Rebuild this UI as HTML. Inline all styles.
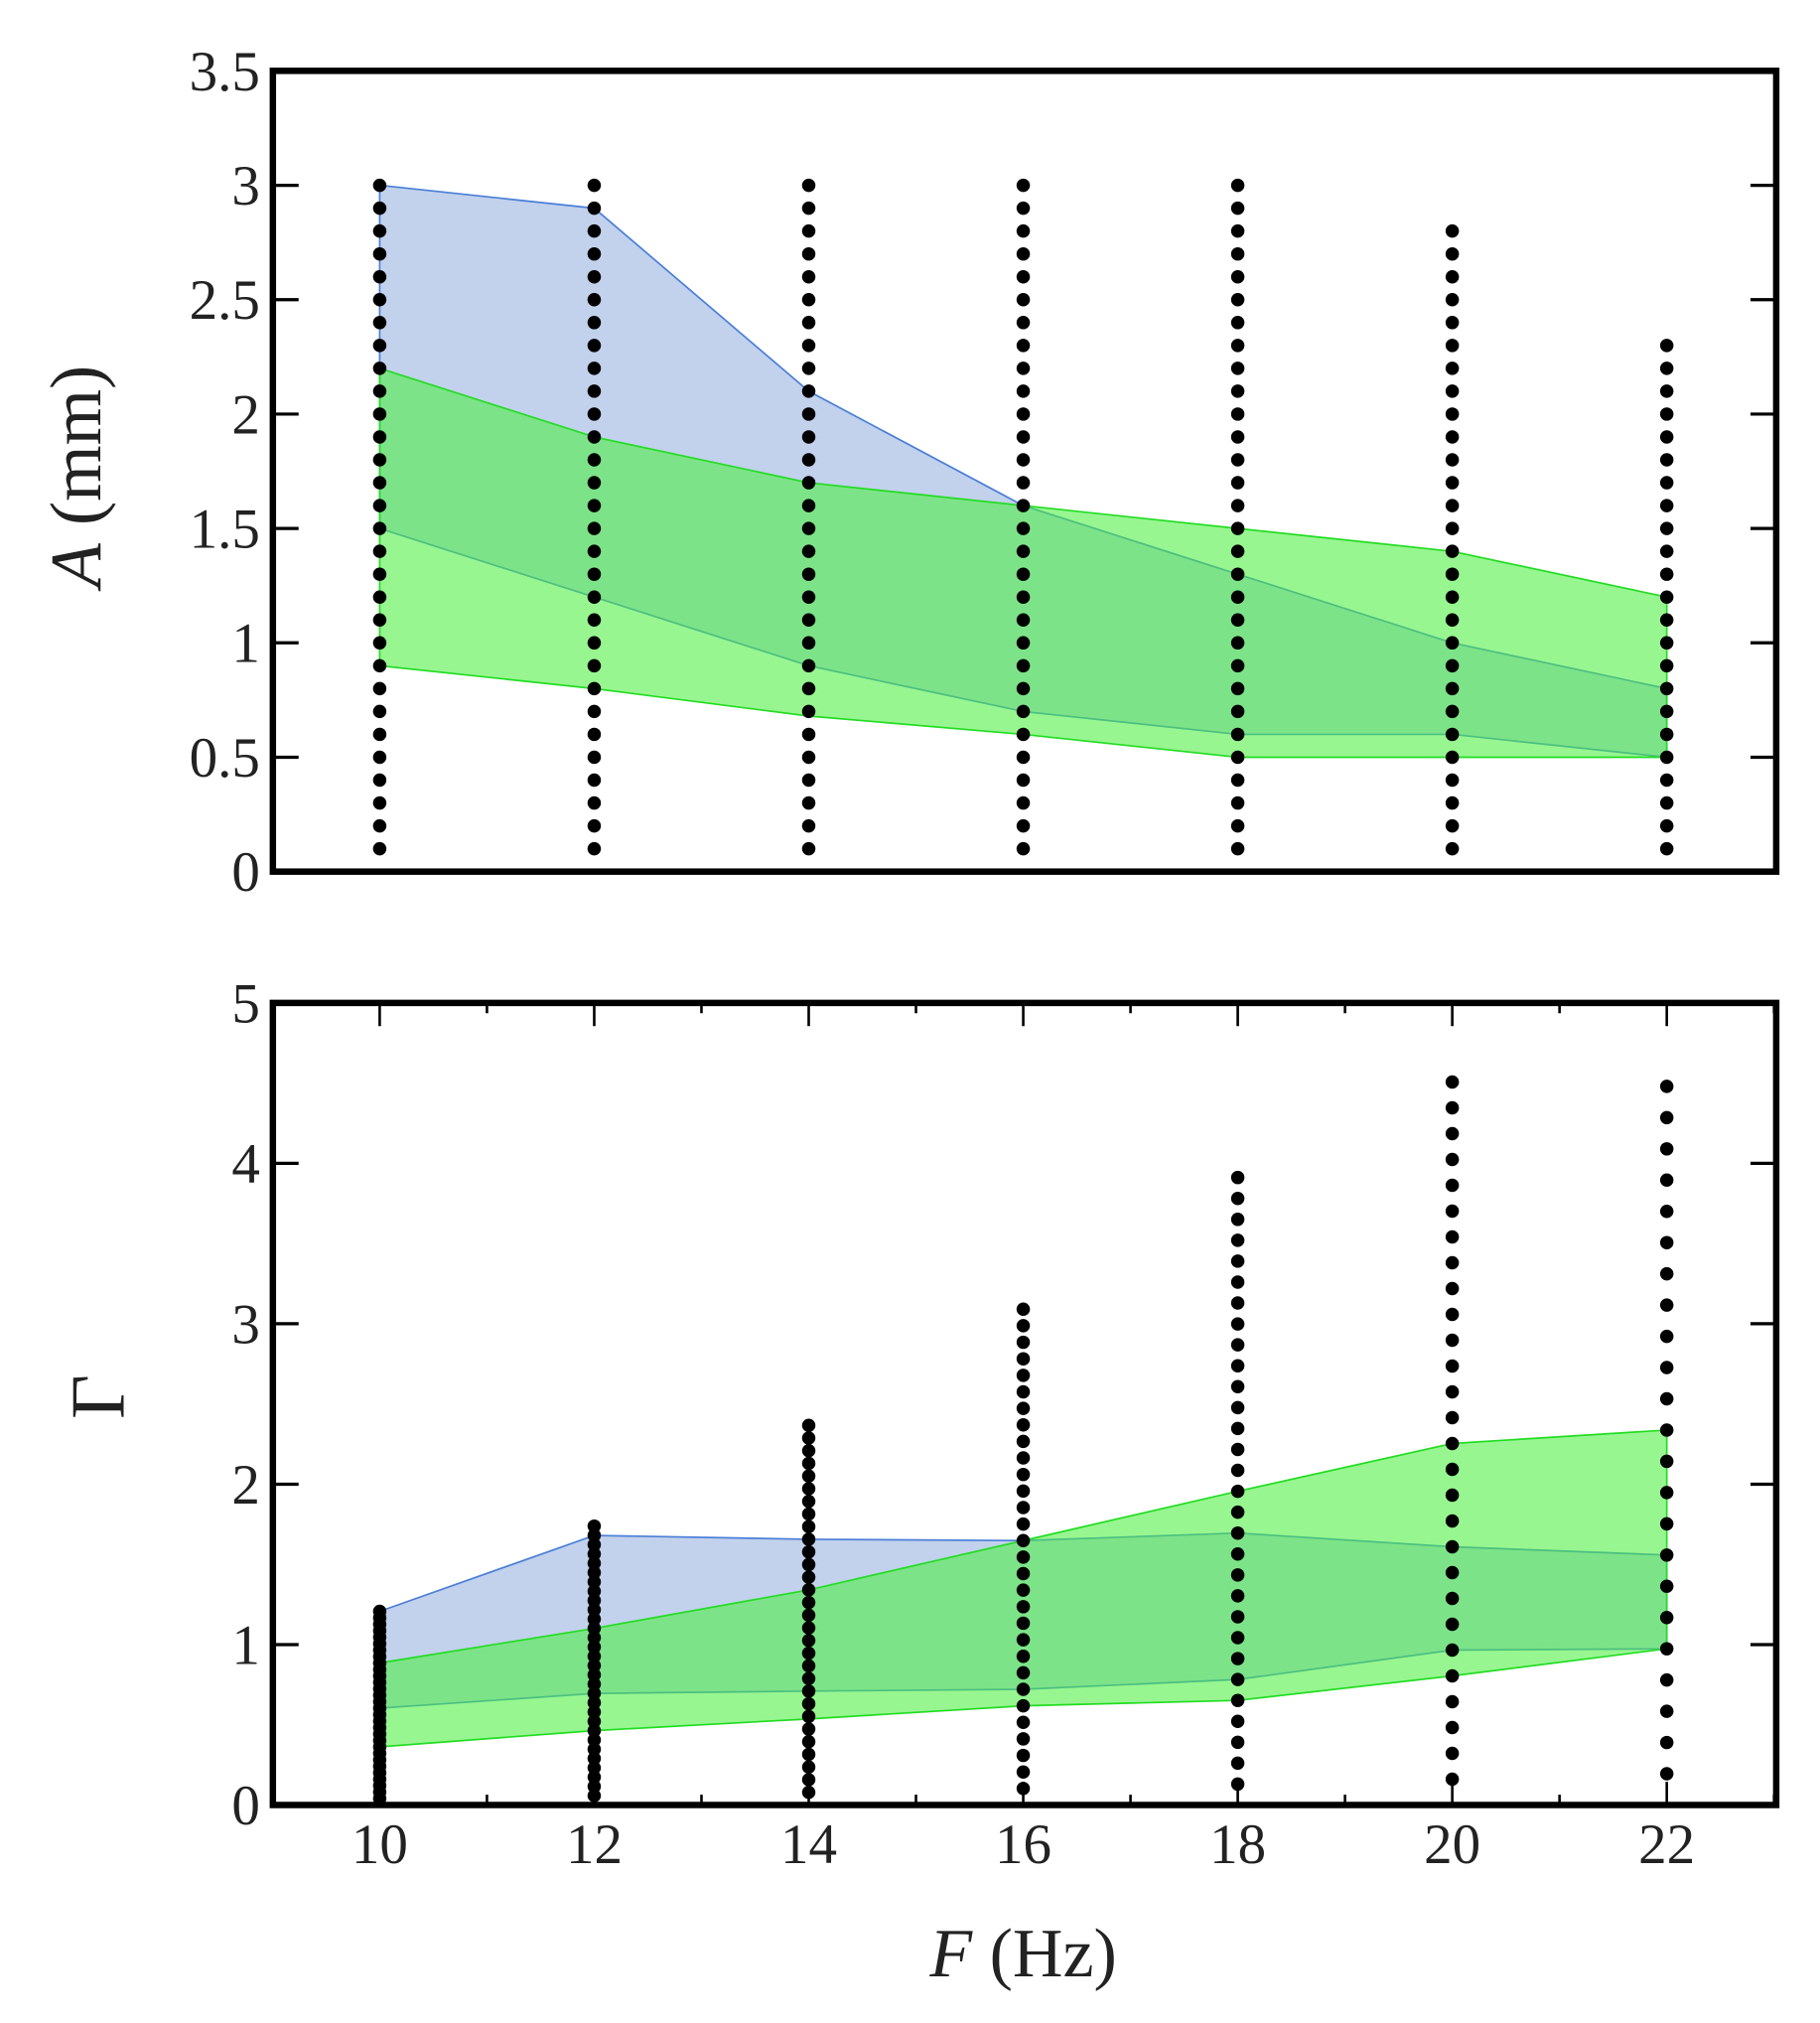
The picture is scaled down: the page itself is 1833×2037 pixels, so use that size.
<!DOCTYPE html>
<html><head><meta charset="utf-8"><style>html,body{margin:0;padding:0;background:#fff}svg{display:block}svg text{font-family:"Liberation Serif",serif;fill:#222}</style></head>
<body>
<svg id="s" width="1833" height="2037" viewBox="0 0 1414 1571.3" xmlns="http://www.w3.org/2000/svg"></svg>
<script>
const s=document.getElementById('s');let h='';
const X=f=>295+(f-10)*83.33;
const YA=a=>677-a*177.7;
const YG=g=>1402-g*124.6;
const F=[10,12,14,16,18,20,22];
const bu=[3.0,2.9,2.1,1.6,1.3,1.0,0.8],bl=[1.5,1.2,0.9,0.7,0.6,0.6,0.5];
const gu=[2.2,1.9,1.7,1.6,1.5,1.4,1.2],gl=[0.9,0.8,0.68,0.6,0.5,0.5,0.5];
const amax=[3.0,3.0,3.0,3.0,3.0,2.8,2.3];
const G=(a,f)=>a*1e-3*Math.pow(2*Math.PI*f,2)/9.81;
function band(u,l,Y,conv,fill,stroke,op){
 let p=F.map((f,i)=>X(f)+','+Y(conv(u[i],f))).concat(F.slice().reverse().map((f,j)=>{let i=6-j;return X(f)+','+Y(conv(l[i],f))}));
 return `<polygon points="${p.join(' ')}" fill="${fill}" fill-opacity="${op}" stroke="${stroke}" stroke-width="1.3"/>`;
}
const id=(a)=>a;
h+=band(bu,bl,YA,id,'#c2d1ec','#4a7fd8',1);
h+=band(gu,gl,YA,id,'#4cf040','#22dd22',0.58);
F.forEach((f,i)=>{for(let k=1;k<=Math.round(amax[i]*10);k++)h+=`<circle cx="${X(f)}" cy="${YA(k/10)}" r="5.2" fill="#000"/>`});
h+=band(bu,bl,YG,G,'#c2d1ec','#4a7fd8',1);
h+=band(gu,gl,YG,G,'#4cf040','#22dd22',0.58);
F.forEach((f,i)=>{for(let k=1;k<=Math.round(amax[i]*10);k++)h+=`<circle cx="${X(f)}" cy="${YG(G(k/10,f))}" r="5.2" fill="#000"/>`});
h+=`<rect x="212" y="55" width="1168" height="622" fill="none" stroke="#000" stroke-width="5"/>`;
h+=`<rect x="212" y="779" width="1168" height="623" fill="none" stroke="#000" stroke-width="5"/>`;
for(let k=0;k<=7;k++){let y=YA(k*0.5);h+=`<line x1="212" x2="232" y1="${y}" y2="${y}" stroke="#000" stroke-width="2.5"/><line x1="1360" x2="1380" y1="${y}" y2="${y}" stroke="#000" stroke-width="2.5"/>`;
 h+=`<text x="202" y="${y+15}" font-size="44" text-anchor="end">${k*0.5}</text>`;}
for(let k=0;k<=5;k++){let y=YG(k);h+=`<line x1="212" x2="232" y1="${y}" y2="${y}" stroke="#000" stroke-width="2.5"/><line x1="1360" x2="1380" y1="${y}" y2="${y}" stroke="#000" stroke-width="2.5"/>`;
 h+=`<text x="202" y="${y+15}" font-size="44" text-anchor="end">${k}</text>`;}
for(let f=9;f<=23;f++){let x=X(f),L=f%2==0?18:8;
 h+=`<line x1="${x}" x2="${x}" y1="1402" y2="${1402-L}" stroke="#000" stroke-width="2"/><line x1="${x}" x2="${x}" y1="779" y2="${779+L}" stroke="#000" stroke-width="2"/>`;
 if(f%2==0)h+=`<text x="${x}" y="1447" font-size="44" text-anchor="middle">${f}</text>`;}
h+=`<text transform="translate(78,370) rotate(-90)" font-size="56" text-anchor="middle"><tspan font-style="italic">A</tspan> (mm)</text>`;
h+=`<text transform="translate(96,1085) rotate(-90)" font-size="60" text-anchor="middle">Γ</text>`;
h+=`<text x="795" y="1535" font-size="54" text-anchor="middle"><tspan font-style="italic">F</tspan>  (Hz)</text>`;
s.innerHTML=h;
</script>
</body></html>
